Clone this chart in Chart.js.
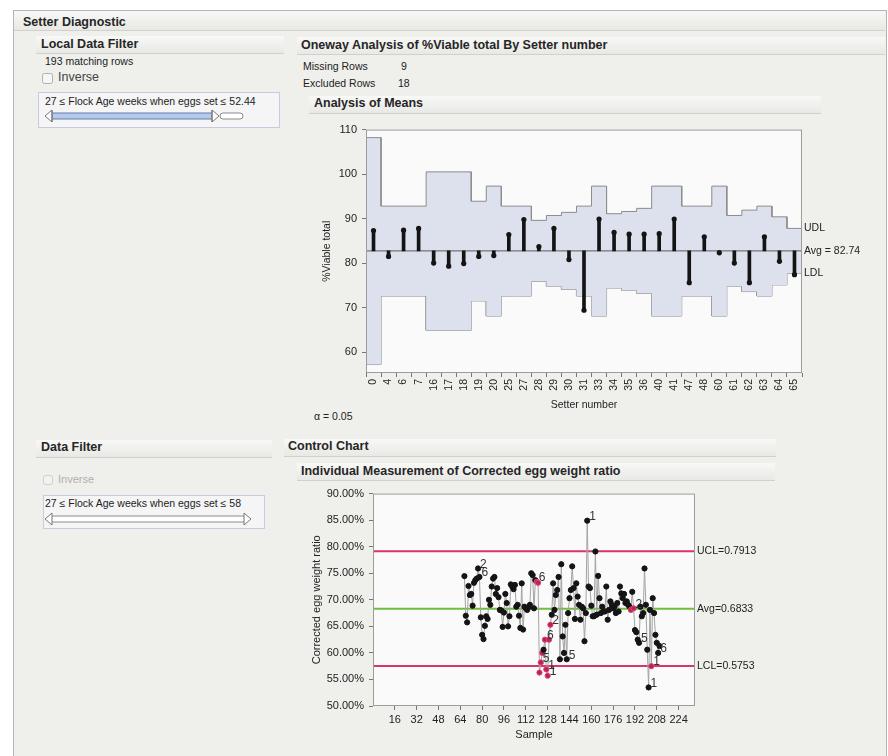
<!DOCTYPE html>
<html>
<head>
<meta charset="utf-8">
<title>Setter Diagnostic</title>
<script src="https://cdn.jsdelivr.net/npm/chart.js@4.4.1/dist/chart.umd.min.js"></script>
<style>
    body { margin: 0; background: #fff; font-family: "Liberation Sans", Arial, sans-serif; color: #222; }
    #page { position: relative; width: 888px; height: 756px; overflow: hidden; }
    #frame { position: absolute; left: 13px; top: 10px; width: 872px; height: 760px; background: #efefec; border: 1px solid #b4b4b4; }
    .t { position: absolute; white-space: nowrap; line-height: 1; }
    .h { font-weight: bold; font-size: 12.5px; color: #262626; }
    .s { font-size: 10.5px; color: #222; }
    .bar { position: absolute; height: 17px; background: linear-gradient(#f8f8f6, #e8e8e5); border-bottom: 1px solid #d0d0cc; }
    .box { position: absolute; border: 1px solid #c6cbe0; background: #f5f5f6; }
    canvas { position: absolute; }
    svg { position: absolute; left: 0; top: 0; }
</style>
</head>
<body>
<div id="page">
    <div id="frame"></div>

    <div class="bar" style="left:14px;top:11px;width:871px;height:19px;"></div>
    <div class="t h" style="left:23px;top:16px;">Setter Diagnostic</div>

    <!-- Filtro local -->
    <div class="bar" style="left:36px;top:36px;width:248px;"></div>
    <div class="t h" style="left:41px;top:38px;">Local Data Filter</div>
    <div class="t s" style="left:45px;top:56px;">193 matching rows</div>
    <div class="t" style="left:58px;top:71px;font-size:12.5px;color:#444;">Inverse</div>
    <div class="box" style="left:38px;top:92px;width:240px;height:34px;"></div>
    <div class="t s" style="left:45px;top:96px;">27 ≤ Flock Age weeks when eggs set ≤ 52.44</div>

    <!-- Oneway -->
    <div class="bar" style="left:297px;top:37px;width:588px;"></div>
    <div class="t h" style="left:301px;top:39px;">Oneway Analysis of %Viable total By Setter number</div>
    <div class="t s" style="left:303px;top:61px;">Missing Rows</div>
    <div class="t s" style="left:401px;top:61px;">9</div>
    <div class="t s" style="left:303px;top:78px;">Excluded Rows</div>
    <div class="t s" style="left:398px;top:78px;">18</div>
    <div class="bar" style="left:309px;top:96px;width:512px;"></div>
    <div class="t h" style="left:314px;top:97px;">Analysis of Means</div>
    <div class="t s" style="left:314px;top:411px;">α = 0.05</div>

    <!-- Filtro de datos -->
    <div class="bar" style="left:36px;top:440px;width:236px;"></div>
    <div class="t h" style="left:41px;top:441px;">Data Filter</div>
    <div class="t" style="left:58px;top:474px;font-size:11px;color:#b0b0b0;">Inverse</div>
    <div class="box" style="left:43px;top:495px;width:220px;height:32px;"></div>
    <div class="t s" style="left:45px;top:498px;">27 ≤ Flock Age weeks when eggs set ≤ 58</div>

    <!-- Control chart -->
    <div class="bar" style="left:284px;top:439px;width:492px;"></div>
    <div class="t h" style="left:288px;top:440px;">Control Chart</div>
    <div class="bar" style="left:297px;top:463px;width:478px;"></div>
    <div class="t h" style="left:301px;top:465px;">Individual Measurement of Corrected egg weight ratio</div>

    <svg width="888" height="756">
        <rect x="42.5" y="73.5" width="10" height="10" rx="2" fill="#f6f6f6" stroke="#b0b0b0"/>
        <rect x="43.5" y="475.5" width="9" height="9" rx="2" fill="#f2f2f2" stroke="#d0d0d0"/>
        <!-- slider 1 -->
        <rect x="220" y="113" width="23" height="6" rx="3" fill="#fff" stroke="#8a8a8a"/>
        <rect x="50" y="113" width="164" height="6" rx="2" fill="#b7c8e8" stroke="#5d7fb8"/>
        <path d="M52 110 L45 116 L52 122 Z M52 110 L52 122" fill="#fff" stroke="#777"/>
        <path d="M212 110 L219 116 L212 122 Z M212 110 L212 122" fill="#fff" stroke="#777"/>
        <!-- slider 2 -->
        <rect x="51" y="516" width="194" height="6" rx="2" fill="#fff" stroke="#8a8a8a"/>
        <path d="M52 513 L45 519 L52 525 Z" fill="#fff" stroke="#777"/>
        <path d="M244 513 L251 519 L244 525 Z" fill="#fff" stroke="#777"/>
    </svg>

    <canvas id="anom-chart" width="570" height="300" style="left:300px;top:118px;"></canvas>
    <canvas id="control-chart" width="520" height="274" style="left:290px;top:482px;"></canvas>
</div>

<script>
// Análisis de medias: grupos de "Setter number"
const setterLabels = ['0', '4', '6', '7', '16', '17', '18', '19', '20', '25', '27', '28', '29', '30', '31',
    '33', '34', '35', '36', '40', '41', '47', '48', '60', '61', '62', '63', '64', '65'];
const setterMeans = [87.3, 81.5, 87.4, 87.8, 80.0, 79.3, 79.9, 81.5, 81.7, 86.4, 89.8, 83.7, 87.8, 80.8, 69.4,
    89.9, 86.9, 86.5, 86.5, 86.6, 89.9, 75.6, 85.9, 82.3, 80.0, 75.6, 85.9, 80.4, 77.4];
const udlValues = [108.2, 92.8, 92.8, 92.8, 100.5, 100.5, 100.5, 93.9, 97.3, 92.8, 92.8, 89.6, 90.7, 91.4, 92.8,
    97.3, 91.1, 91.6, 92.3, 97.3, 97.3, 92.8, 92.8, 97.3, 90.7, 91.9, 92.8, 90.4, 87.8];
const ldlValues = [57.2, 72.6, 72.6, 72.6, 64.9, 64.9, 64.9, 71.5, 68.1, 72.6, 72.6, 75.9, 74.8, 74.1, 72.6,
    68.1, 74.4, 73.9, 73.2, 68.1, 68.1, 72.6, 72.6, 68.1, 74.8, 73.6, 72.6, 75.1, 77.7];
const anomAvg = 82.74;
const anomTicks = [60, 70, 80, 90, 100, 110];

// Gráfico de control: medidas individuales
const firstSample = 67;
const eggRatio = [
    0.7446, 0.6700, 0.6575, 0.7260, 0.7090, 0.7110, 0.6890, 0.7320, 0.7370, 0.7400,
    0.7590, 0.7430, 0.6670, 0.6340, 0.6260, 0.6510, 0.6690, 0.6640, 0.7000, 0.6905,
    0.7250, 0.7400, 0.7430, 0.7110, 0.7220, 0.7050, 0.6810, 0.6800, 0.6490, 0.6760,
    0.7110, 0.6940, 0.6500, 0.6690, 0.7290, 0.7250, 0.7200, 0.7280, 0.6870, 0.6905,
    0.6700, 0.6470, 0.7310, 0.6440, 0.6870, 0.6840, 0.6810, 0.6860, 0.6905, 0.7500,
    0.7465, 0.6840, 0.7370, 0.7340, 0.7320, 0.5630, 0.5820, 0.6000, 0.6060, 0.6250,
    0.5690, 0.5570, 0.6250, 0.6530, 0.6720, 0.7310, 0.6810, 0.7090, 0.7185, 0.7430,
    0.5880, 0.7670, 0.6310, 0.6000, 0.6530, 0.5880, 0.6750, 0.7030, 0.7185, 0.7630,
    0.7220, 0.6640, 0.7310, 0.7060, 0.6905, 0.6625, 0.6870, 0.6840, 0.6220, 0.6750,
    0.8490, 0.7250, 0.7220, 0.6890, 0.6690, 0.6690, 0.7910, 0.6720, 0.7450, 0.7030,
    0.6750, 0.6870, 0.6780, 0.6780, 0.7250, 0.6625, 0.6810, 0.6970, 0.6905, 0.6840,
    0.6870, 0.6750, 0.6940, 0.6780, 0.7250, 0.7120, 0.7030, 0.7110, 0.6940, 0.6970,
    0.6905, 0.6870, 0.6810, 0.7150, 0.6840, 0.6430, 0.6390, 0.6250, 0.6190, 0.6870,
    0.6690, 0.6750, 0.7590, 0.6905, 0.6060, 0.5350, 0.6810, 0.5750, 0.7030, 0.6750,
    0.6340, 0.6190, 0.6000, 0.6130
];
// puntos marcados por las pruebas (índice en eggRatio, número de prueba)
const flaggedIndex = [10, 11, 53, 54, 55, 56, 57, 59, 60, 61, 62, 63, 75, 90, 122, 124, 128, 135, 137, 142];
const flaggedText = ['2', '6', '6', '', '', '5', '', '6', '1', '1', '', '2', '5', '1', '', '2', '5', '1', '1', '6'];
const redIndex = [53, 54, 55, 56, 57, 59, 60, 61, 62, 63, 122, 124, 137];
const ucl = 0.7913;
const cAvg = 0.6833;
const lcl = 0.5753;
const sampleTicks = [16, 32, 48, 64, 80, 96, 112, 128, 144, 160, 176, 192, 208, 224];
const sampleMax = 236;
const ratioTicks = [0.50, 0.55, 0.60, 0.65, 0.70, 0.75, 0.80, 0.85, 0.90];

const FONT = '"Liberation Sans", Arial, sans-serif';
Chart.defaults.font.family = FONT;
Chart.defaults.color = '#222';

// Fondo y marco del área de trazado
const plotFrame = {
    id: 'plotFrame',
    beforeDraw: function(chart) {
        const a = chart.chartArea;
        const ctx = chart.ctx;
        ctx.save();
        ctx.fillStyle = '#fafafa';
        ctx.fillRect(a.left, a.top, a.width, a.height);
        ctx.restore();
    },
    afterDraw: function(chart) {
        const a = chart.chartArea;
        const ctx = chart.ctx;
        ctx.save();
        ctx.strokeStyle = '#9c9c9c';
        ctx.lineWidth = 1;
        ctx.strokeRect(a.left + 0.5, a.top + 0.5, a.width - 1, a.height - 1);
        ctx.restore();
    }
};

const anomLabels = {
    id: 'anomLabels',
    afterDraw: function(chart) {
        const a = chart.chartArea;
        const y = chart.scales.y;
        const ctx = chart.ctx;
        const last = udlValues.length - 1;
        ctx.save();
        ctx.font = '10.5px ' + FONT;
        ctx.fillStyle = '#222';
        ctx.textBaseline = 'middle';
        ctx.fillText('UDL', a.right + 2, y.getPixelForValue(udlValues[last]));
        ctx.fillText('Avg = ' + anomAvg.toFixed(2), a.right + 2, y.getPixelForValue(anomAvg));
        ctx.fillText('LDL', a.right + 2, y.getPixelForValue(ldlValues[last]));
        ctx.restore();
    }
};

const controlLabels = {
    id: 'controlLabels',
    afterDraw: function(chart) {
        const a = chart.chartArea;
        const x = chart.scales.x;
        const y = chart.scales.y;
        const ctx = chart.ctx;
        ctx.save();
        ctx.font = '10.5px ' + FONT;
        ctx.fillStyle = '#222';
        ctx.textBaseline = 'middle';
        ctx.fillText('UCL=' + ucl.toFixed(4), a.right + 2, y.getPixelForValue(ucl));
        ctx.fillText('Avg=' + cAvg.toFixed(4), a.right + 2, y.getPixelForValue(cAvg));
        ctx.fillText('LCL=' + lcl.toFixed(4), a.right + 2, y.getPixelForValue(lcl));
        // números de prueba junto a los puntos
        ctx.font = '12px ' + FONT;
        ctx.fillStyle = '#333';
        ctx.textBaseline = 'bottom';
        flaggedIndex.forEach((idx, k) => {
            if (!flaggedText[k]) return;
            const px = x.getPixelForValue(firstSample + idx);
            const py = y.getPixelForValue(eggRatio[idx]);
            ctx.fillText(flaggedText[k], px + 2, py + 2);
        });
        ctx.restore();
    }
};

// Escalones de los límites de decisión
const upperSteps = [];
const lowerSteps = [];
setterLabels.forEach((_, i) => {
    upperSteps.push({ x: i - 0.5, y: udlValues[i] }, { x: i + 0.5, y: udlValues[i] });
    lowerSteps.push({ x: i - 0.5, y: ldlValues[i] }, { x: i + 0.5, y: ldlValues[i] });
});

const anomChart = new Chart(document.getElementById('anom-chart'), {
    type: 'line',
    data: {
        datasets: [
            {
                data: upperSteps,
                borderColor: '#8c8c8c',
                borderWidth: 1,
                pointRadius: 0,
                backgroundColor: '#dde1ee',
                fill: '+1',
                order: 5
            },
            {
                data: lowerSteps,
                borderColor: '#8c8c8c',
                borderWidth: 1,
                pointRadius: 0,
                fill: false,
                order: 5
            },
            {
                data: [{ x: -0.5, y: anomAvg }, { x: setterLabels.length - 0.5, y: anomAvg }],
                borderColor: '#5a5a5a',
                borderWidth: 1,
                pointRadius: 0,
                order: 4
            },
            {
                type: 'bar',
                data: setterMeans.map((m, i) => ({ x: i, y: [anomAvg, m] })),
                backgroundColor: '#141414',
                barThickness: 3,
                order: 2
            },
            {
                type: 'scatter',
                data: setterMeans.map((m, i) => ({ x: i, y: m })),
                pointRadius: 2.6,
                backgroundColor: '#141414',
                borderWidth: 0,
                order: 1
            }
        ]
    },
    options: {
        responsive: false,
        animation: false,
        layout: { padding: { top: 10, right: 68, left: 0, bottom: 0 } },
        plugins: { legend: { display: false }, tooltip: { enabled: false } },
        scales: {
            x: {
                type: 'linear',
                min: -0.5,
                max: setterLabels.length - 0.5,
                offset: false,
                afterBuildTicks: function(scale) {
                    scale.ticks = setterLabels.map((_, i) => ({ value: i }));
                },
                afterFit: function(scale) { scale.height = 45; },
                ticks: {
                    autoSkip: false,
                    minRotation: 90,
                    maxRotation: 90,
                    padding: 2,
                    font: { size: 10.5 },
                    callback: function(value) { return setterLabels[value]; }
                },
                grid: { drawOnChartArea: false, tickLength: 4, color: '#777' },
                border: { display: false },
                title: {
                    display: true,
                    text: 'Setter number',
                    font: { size: 10.5 },
                    padding: { top: 0, bottom: 7 }
                }
            },
            y: {
                min: 55.3,
                max: 110,
                afterBuildTicks: function(scale) {
                    scale.ticks = anomTicks.map(v => ({ value: v }));
                },
                afterFit: function(scale) { scale.width = 66; },
                ticks: { padding: 5, font: { size: 11 } },
                grid: { drawOnChartArea: false, tickLength: 4, color: '#777' },
                border: { display: false },
                title: {
                    display: true,
                    text: '%Viable total',
                    font: { size: 10.5 },
                    padding: { top: 21, bottom: 0 }
                }
            }
        }
    },
    plugins: [plotFrame, anomLabels]
});

const pointFill = eggRatio.map((_, i) => redIndex.includes(i) ? '#b8234f' : '#141414');
const pointEdge = eggRatio.map((_, i) => redIndex.includes(i) ? '#e0457a' : '#141414');

const controlChart = new Chart(document.getElementById('control-chart'), {
    type: 'line',
    data: {
        datasets: [
            {
                data: eggRatio.map((v, i) => ({ x: firstSample + i, y: v })),
                borderColor: '#a4a4a4',
                borderWidth: 1,
                tension: 0,
                pointRadius: 2.6,
                pointBackgroundColor: pointFill,
                pointBorderColor: pointEdge,
                pointBorderWidth: 1,
                order: 1
            },
            {
                data: [{ x: 0, y: ucl }, { x: sampleMax, y: ucl }],
                borderColor: '#d8356a',
                borderWidth: 2,
                pointRadius: 0,
                order: 3
            },
            {
                data: [{ x: 0, y: cAvg }, { x: sampleMax, y: cAvg }],
                borderColor: '#6cbf3a',
                borderWidth: 2,
                pointRadius: 0,
                order: 3
            },
            {
                data: [{ x: 0, y: lcl }, { x: sampleMax, y: lcl }],
                borderColor: '#d8356a',
                borderWidth: 2,
                pointRadius: 0,
                order: 3
            }
        ]
    },
    options: {
        responsive: false,
        animation: false,
        layout: { padding: { top: 10, right: 115, left: 0, bottom: 0 } },
        plugins: { legend: { display: false }, tooltip: { enabled: false } },
        scales: {
            x: {
                type: 'linear',
                min: 0,
                max: sampleMax,
                afterBuildTicks: function(scale) {
                    scale.ticks = sampleTicks.map(v => ({ value: v }));
                },
                afterFit: function(scale) { scale.height = 50; },
                ticks: { autoSkip: false, maxRotation: 0, padding: 3, font: { size: 11 } },
                grid: { drawOnChartArea: false, tickLength: 4, color: '#777' },
                border: { display: false },
                title: {
                    display: true,
                    text: 'Sample',
                    font: { size: 11 },
                    padding: { top: 0, bottom: 14 }
                }
            },
            y: {
                min: 0.5,
                max: 0.9,
                afterBuildTicks: function(scale) {
                    scale.ticks = ratioTicks.map(v => ({ value: v }));
                },
                afterFit: function(scale) { scale.width = 83; },
                ticks: {
                    padding: 5,
                    font: { size: 11 },
                    callback: function(value) { return (value * 100).toFixed(2) + '%'; }
                },
                grid: { drawOnChartArea: false, tickLength: 4, color: '#777' },
                border: { display: false },
                title: {
                    display: true,
                    text: 'Corrected egg weight ratio',
                    font: { size: 11 },
                    padding: { top: 20, bottom: 0 }
                }
            }
        }
    },
    plugins: [plotFrame, controlLabels]
});
</script>
</body>
</html>
